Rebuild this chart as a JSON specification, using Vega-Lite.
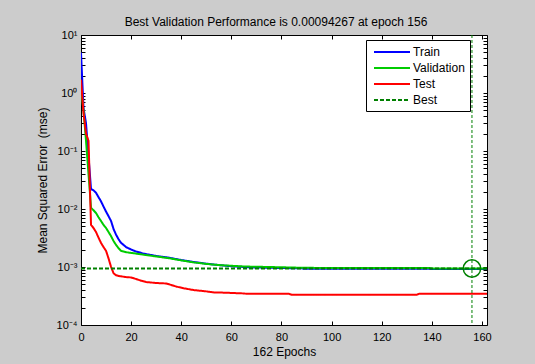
{
  "$schema": "https://vega.github.io/schema/vega-lite/v6.json",
  "autosize": {"type": "none"},
  "width": 406,
  "height": 290,
  "padding": {"left": 81, "top": 35, "right": 48, "bottom": 39},
  "background": "#cccccc",
  "title": {
    "text": "Best Validation Performance is 0.00094267 at epoch 156",
    "font": "Liberation Sans",
    "fontSize": 12,
    "fontWeight": "normal",
    "color": "black",
    "anchor": "middle",
    "dx": -8,
    "offset": 0
  },
  "config": {
    "view": {"stroke": "black", "strokeWidth": 1, "fill": "white"},
    "axis": {
      "grid": false,
      "domainColor": "black",
      "tickColor": "black",
      "labelColor": "black",
      "titleColor": "black",
      "labelFont": "Liberation Sans",
      "titleFont": "Liberation Sans",
      "labelFontSize": 11,
      "titleFontSize": 12,
      "titleFontWeight": "normal",
      "labelOverlap": false,
      "labelFlush": false,
      "labelBound": false
    },
    "legend": {
      "labelFont": "Liberation Sans",
      "labelFontSize": 12,
      "labelColor": "black"
    }
  },
  "datasets": {
    "perf": [
      {"series": "Train", "epoch": 0, "mse": 5.0},
      {"series": "Train", "epoch": 1, "mse": 0.55},
      {"series": "Train", "epoch": 2, "mse": 0.3},
      {"series": "Train", "epoch": 3, "mse": 0.08},
      {"series": "Train", "epoch": 4, "mse": 0.022},
      {"series": "Train", "epoch": 5, "mse": 0.021},
      {"series": "Train", "epoch": 6, "mse": 0.019},
      {"series": "Train", "epoch": 7, "mse": 0.016},
      {"series": "Train", "epoch": 8, "mse": 0.0135},
      {"series": "Train", "epoch": 9, "mse": 0.011},
      {"series": "Train", "epoch": 10, "mse": 0.009},
      {"series": "Train", "epoch": 11, "mse": 0.0075},
      {"series": "Train", "epoch": 12, "mse": 0.0062},
      {"series": "Train", "epoch": 13, "mse": 0.0045},
      {"series": "Train", "epoch": 14, "mse": 0.0036},
      {"series": "Train", "epoch": 15, "mse": 0.003},
      {"series": "Train", "epoch": 16, "mse": 0.0026},
      {"series": "Train", "epoch": 17, "mse": 0.0024},
      {"series": "Train", "epoch": 18, "mse": 0.0022},
      {"series": "Train", "epoch": 19, "mse": 0.0021},
      {"series": "Train", "epoch": 20, "mse": 0.002},
      {"series": "Train", "epoch": 22, "mse": 0.00185},
      {"series": "Train", "epoch": 25, "mse": 0.0017},
      {"series": "Train", "epoch": 30, "mse": 0.00155},
      {"series": "Train", "epoch": 35, "mse": 0.00145},
      {"series": "Train", "epoch": 40, "mse": 0.00132},
      {"series": "Train", "epoch": 45, "mse": 0.00122},
      {"series": "Train", "epoch": 50, "mse": 0.00114},
      {"series": "Train", "epoch": 55, "mse": 0.00108},
      {"series": "Train", "epoch": 60, "mse": 0.00103},
      {"series": "Train", "epoch": 65, "mse": 0.001},
      {"series": "Train", "epoch": 70, "mse": 0.00098},
      {"series": "Train", "epoch": 80, "mse": 0.00096},
      {"series": "Train", "epoch": 88, "mse": 0.00095},
      {"series": "Train", "epoch": 89, "mse": 0.00093},
      {"series": "Train", "epoch": 120, "mse": 0.00093},
      {"series": "Train", "epoch": 139, "mse": 0.00093},
      {"series": "Train", "epoch": 140, "mse": 0.00092},
      {"series": "Train", "epoch": 162, "mse": 0.00092},

      {"series": "Validation", "epoch": 0, "mse": 1.2},
      {"series": "Validation", "epoch": 1, "mse": 0.5},
      {"series": "Validation", "epoch": 2, "mse": 0.15},
      {"series": "Validation", "epoch": 3, "mse": 0.04},
      {"series": "Validation", "epoch": 4, "mse": 0.0105},
      {"series": "Validation", "epoch": 5, "mse": 0.0095},
      {"series": "Validation", "epoch": 6, "mse": 0.0085},
      {"series": "Validation", "epoch": 7, "mse": 0.0072},
      {"series": "Validation", "epoch": 8, "mse": 0.0062},
      {"series": "Validation", "epoch": 9, "mse": 0.0053},
      {"series": "Validation", "epoch": 10, "mse": 0.0047},
      {"series": "Validation", "epoch": 11, "mse": 0.004},
      {"series": "Validation", "epoch": 12, "mse": 0.0034},
      {"series": "Validation", "epoch": 13, "mse": 0.0028},
      {"series": "Validation", "epoch": 14, "mse": 0.0024},
      {"series": "Validation", "epoch": 15, "mse": 0.0021},
      {"series": "Validation", "epoch": 16, "mse": 0.0019},
      {"series": "Validation", "epoch": 17, "mse": 0.00185},
      {"series": "Validation", "epoch": 18, "mse": 0.0018},
      {"series": "Validation", "epoch": 20, "mse": 0.00175},
      {"series": "Validation", "epoch": 22, "mse": 0.0017},
      {"series": "Validation", "epoch": 25, "mse": 0.00163},
      {"series": "Validation", "epoch": 30, "mse": 0.00152},
      {"series": "Validation", "epoch": 35, "mse": 0.00142},
      {"series": "Validation", "epoch": 40, "mse": 0.0013},
      {"series": "Validation", "epoch": 45, "mse": 0.0012},
      {"series": "Validation", "epoch": 50, "mse": 0.00113},
      {"series": "Validation", "epoch": 55, "mse": 0.00108},
      {"series": "Validation", "epoch": 60, "mse": 0.00105},
      {"series": "Validation", "epoch": 65, "mse": 0.00102},
      {"series": "Validation", "epoch": 70, "mse": 0.00101},
      {"series": "Validation", "epoch": 80, "mse": 0.00099},
      {"series": "Validation", "epoch": 88, "mse": 0.00097},
      {"series": "Validation", "epoch": 100, "mse": 0.00096},
      {"series": "Validation", "epoch": 139, "mse": 0.00096},
      {"series": "Validation", "epoch": 140, "mse": 0.000945},
      {"series": "Validation", "epoch": 155, "mse": 0.000945},
      {"series": "Validation", "epoch": 156, "mse": 0.00094267},
      {"series": "Validation", "epoch": 162, "mse": 0.00094267},

      {"series": "Test", "epoch": 0, "mse": 1.7},
      {"series": "Test", "epoch": 1, "mse": 0.45},
      {"series": "Test", "epoch": 2, "mse": 0.2},
      {"series": "Test", "epoch": 3, "mse": 0.15},
      {"series": "Test", "epoch": 4, "mse": 0.0053},
      {"series": "Test", "epoch": 5, "mse": 0.0047},
      {"series": "Test", "epoch": 6, "mse": 0.004},
      {"series": "Test", "epoch": 7, "mse": 0.0032},
      {"series": "Test", "epoch": 8, "mse": 0.0026},
      {"series": "Test", "epoch": 9, "mse": 0.0022},
      {"series": "Test", "epoch": 10, "mse": 0.0019},
      {"series": "Test", "epoch": 11, "mse": 0.0014},
      {"series": "Test", "epoch": 12, "mse": 0.001},
      {"series": "Test", "epoch": 13, "mse": 0.00078},
      {"series": "Test", "epoch": 14, "mse": 0.00072},
      {"series": "Test", "epoch": 15, "mse": 0.0007},
      {"series": "Test", "epoch": 16, "mse": 0.00069},
      {"series": "Test", "epoch": 18, "mse": 0.00067},
      {"series": "Test", "epoch": 20, "mse": 0.00066},
      {"series": "Test", "epoch": 22, "mse": 0.00062},
      {"series": "Test", "epoch": 24, "mse": 0.00058},
      {"series": "Test", "epoch": 26, "mse": 0.00055},
      {"series": "Test", "epoch": 30, "mse": 0.00053},
      {"series": "Test", "epoch": 34, "mse": 0.00052},
      {"series": "Test", "epoch": 36, "mse": 0.00049},
      {"series": "Test", "epoch": 38, "mse": 0.00046},
      {"series": "Test", "epoch": 41, "mse": 0.00043},
      {"series": "Test", "epoch": 45, "mse": 0.0004},
      {"series": "Test", "epoch": 50, "mse": 0.00038},
      {"series": "Test", "epoch": 53, "mse": 0.000365},
      {"series": "Test", "epoch": 58, "mse": 0.00036},
      {"series": "Test", "epoch": 65, "mse": 0.00035},
      {"series": "Test", "epoch": 66, "mse": 0.000345},
      {"series": "Test", "epoch": 83, "mse": 0.000345},
      {"series": "Test", "epoch": 84, "mse": 0.000333},
      {"series": "Test", "epoch": 134, "mse": 0.000333},
      {"series": "Test", "epoch": 135, "mse": 0.000347},
      {"series": "Test", "epoch": 162, "mse": 0.000347},

      {"series": "Best", "epoch": 0, "mse": 0.00094267},
      {"series": "Best", "epoch": 162, "mse": 0.00094267}
    ],
    "best": [
      {"epoch": 156, "mse": 0.00094267}
    ]
  },
  "layer": [
    {
      "data": {"name": "perf"},
      "mark": {"type": "line", "clip": true},
      "encoding": {
        "x": {
          "field": "epoch", "type": "quantitative",
          "scale": {"domain": [0, 162], "nice": false, "zero": false},
          "axis": {
            "title": "162 Epochs",
            "values": [0, 20, 40, 60, 80, 100, 120, 140, 160],
            "tickSize": -4,
            "labelPadding": 10,
            "titlePadding": 4,
            "domain": false
          }
        },
        "y": {
          "field": "mse", "type": "quantitative",
          "scale": {"type": "log", "domain": [0.0001, 10], "nice": false},
          "axis": {
            "title": "Mean Squared Error \u00a0(mse)",
            "values": [0.0001, 0.0002, 0.0003, 0.0004, 0.0005, 0.0006, 0.0007, 0.0008, 0.0009,
                       0.001, 0.002, 0.003, 0.004, 0.005, 0.006, 0.007, 0.008, 0.009,
                       0.01, 0.02, 0.03, 0.04, 0.05, 0.06, 0.07, 0.08, 0.09,
                       0.1, 0.2, 0.3, 0.4, 0.5, 0.6, 0.7, 0.8, 0.9,
                       1, 2, 3, 4, 5, 6, 7, 8, 9, 10],
            "labelExpr": "abs(log(datum.value)/LN10 - round(log(datum.value)/LN10)) > 0.001 ? '' : (round(log(datum.value)/LN10) == 1 ? '10¹' : round(log(datum.value)/LN10) == 0 ? '10⁰' : round(log(datum.value)/LN10) == -1 ? '10⁻¹' : round(log(datum.value)/LN10) == -2 ? '10⁻²' : round(log(datum.value)/LN10) == -3 ? '10⁻³' : '10⁻⁴')",
            "tickSize": -4,
            "labelPadding": 8,
            "titlePadding": 7,
            "domain": false
          }
        },
        "color": {
          "field": "series", "type": "nominal",
          "scale": {
            "domain": ["Train", "Validation", "Test", "Best"],
            "range": ["#0000ff", "#00cc00", "#ff0000", "#008000"]
          },
          "legend": {
            "title": null,
            "orient": "none",
            "legendX": 285,
            "legendY": 5,
            "fillColor": "white",
            "strokeColor": "black",
            "padding": 5,
            "symbolType": "M-3,0H3",
            "symbolSize": 144,
            "symbolStrokeWidth": 2,
            "symbolOffset": 14,
            "labelOffset": 14,
            "rowPadding": 3,
            "cornerRadius": 0
          }
        },
        "strokeDash": {
          "field": "series", "type": "nominal",
          "scale": {
            "domain": ["Train", "Validation", "Test", "Best"],
            "range": [[1, 0], [1, 0], [1, 0], [4, 2]]
          },
          "legend": {
            "title": null,
            "orient": "none",
            "legendX": 285,
            "legendY": 5
          }
        },
        "strokeWidth": {
          "field": "series", "type": "nominal",
          "scale": {
            "domain": ["Train", "Validation", "Test", "Best"],
            "range": [2, 2, 2, 1]
          },
          "legend": null
        },
        "order": {"field": "epoch", "type": "quantitative"}
      }
    },
    {
      "data": {"name": "best"},
      "mark": {"type": "rule", "color": "#008000", "strokeWidth": 1, "strokeDash": [3, 2]},
      "encoding": {
        "x": {"field": "epoch", "type": "quantitative", "axis": null}
      }
    },
    {
      "data": {"name": "best"},
      "mark": {"type": "point", "shape": "circle", "filled": false, "size": 300, "stroke": "#008000", "strokeWidth": 1.5, "opacity": 1},
      "encoding": {
        "x": {
          "field": "epoch", "type": "quantitative",
          "axis": {
            "orient": "top", "title": null, "labels": false, "domain": false,
            "values": [0, 20, 40, 60, 80, 100, 120, 140, 160],
            "tickSize": -4
          }
        },
        "y": {
          "field": "mse", "type": "quantitative",
          "axis": {
            "orient": "right", "title": null, "labels": false, "domain": false,
            "values": [0.0001, 0.0002, 0.0003, 0.0004, 0.0005, 0.0006, 0.0007, 0.0008, 0.0009,
                       0.001, 0.002, 0.003, 0.004, 0.005, 0.006, 0.007, 0.008, 0.009,
                       0.01, 0.02, 0.03, 0.04, 0.05, 0.06, 0.07, 0.08, 0.09,
                       0.1, 0.2, 0.3, 0.4, 0.5, 0.6, 0.7, 0.8, 0.9,
                       1, 2, 3, 4, 5, 6, 7, 8, 9, 10],
            "tickSize": -4
          }
        }
      }
    }
  ],
  "resolve": {"axis": {"x": "independent", "y": "independent"}}
}
